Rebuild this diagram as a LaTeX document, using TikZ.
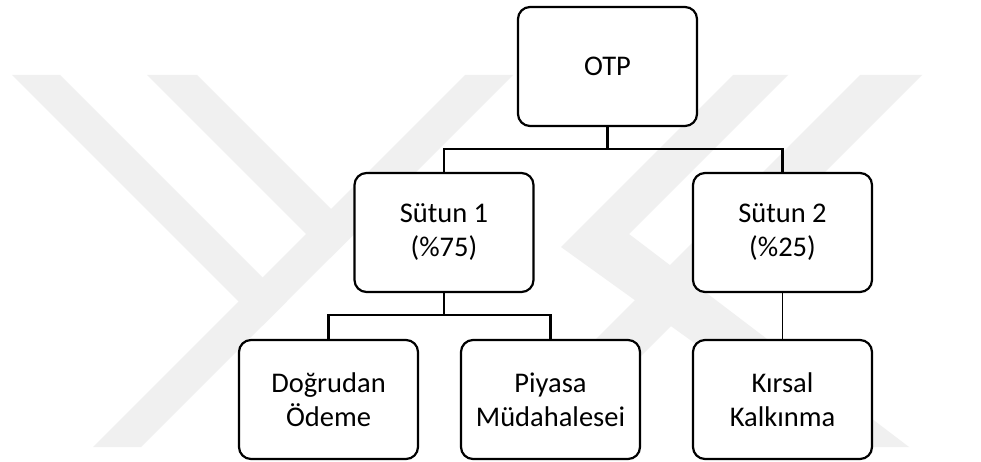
\documentclass[tikz,border=0pt]{standalone}
\usepackage{fontspec}
\setmainfont{Carlito}
\begin{document}
\begin{tikzpicture}[x=1pt,y=-1pt,
  box/.style={draw=black, line width=2.2pt, rounded corners=12pt, fill=white,
    minimum width=179pt, minimum height=119pt, inner sep=0pt, align=center,
    font=\fontsize{28.5}{34}\selectfont},
  conn/.style={line width=2.2pt},
  thinconn/.style={line width=1pt},
  wm/.style={fill=black!6, draw=none}]
\useasboundingbox (0,0) rectangle (981,462);
\fill[white] (0,0) rectangle (981,462);
% watermark (faint logo)
\fill[wm] (12,75) -- (60,75) -- (286.5,301.5) -- (262.5,325.5) -- cycle;
\fill[wm] (465,75) -- (513,75) -- (141,447) -- (93,447) -- cycle;
\fill[wm] (147,75) -- (197,75) -- (355,233) -- (330,258) -- cycle;
\fill[wm] (733,75) -- (788,75) -- (629,234) -- (909,447) -- (839,447) -- (561,247) -- cycle;
\fill[wm] (860,75) -- (922,75) -- (550,447) -- (488,447) -- cycle;
% nodes
\node[box] (otp) at (607.5,66.5) {OTP};
\node[box] (s1) at (444,232.5) {Sütun 1\\(\%75)};
\node[box] (s2) at (782.5,232.5) {Sütun 2\\(\%25)};
\node[box] (d) at (328.5,399.5) {Doğrudan\\Ödeme};
\node[box] (p) at (550.5,399.5) {Piyasa\\Müdahalesei};
\node[box] (k) at (782.5,399.5) {Kırsal\\Kalkınma};
% connectors
\coordinate (b1) at (607.5,149);
\coordinate (b2) at (444,315);
\draw[conn] (otp.south) -- (b1);
\draw[conn] (s1.north) |- (b1) -| (s2.north);
\draw[conn] (s1.south) -- (b2);
\draw[conn] (d.north) |- (b2) -| (p.north);
\draw[thinconn] (s2.south) -- (k.north);
\end{tikzpicture}
\end{document}
